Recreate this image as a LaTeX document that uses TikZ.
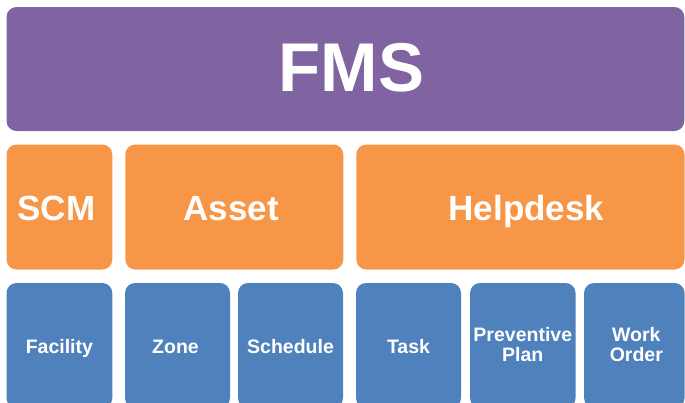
\documentclass[tikz,border=0pt]{standalone}
\usepackage{fontspec}
\setmainfont{Liberation Sans}
\definecolor{fmspurple}{HTML}{8064A2}
\definecolor{fmsorange}{HTML}{F79646}
\definecolor{fmsblue}{HTML}{4F81BD}
\tikzset{
  tile/.style={rounded corners=10pt, inner sep=0pt, draw=none},
  ptile/.style={tile, fill=fmspurple},
  otile/.style={tile, fill=fmsorange},
  btile/.style={tile, fill=fmsblue},
  tiletext/.style={text=white, inner sep=0pt, anchor=base},
  bigtxt/.style={tiletext, font=\fontsize{69}{72}\selectfont\bfseries},
  midtxt/.style={tiletext, font=\fontsize{35}{38}\selectfont\bfseries},
  smalltxt/.style={tiletext, font=\fontsize{19.5}{20}\selectfont\bfseries},
}
\begin{document}
\begin{tikzpicture}[x=1pt, y=-1pt]
\useasboundingbox (0,0) rectangle (685,402);
\begin{scope}
\clip (0,0) rectangle (685,402);
% top
\node[ptile, minimum width=677.8pt, minimum height=124pt] (fms) at (345.4,69) {};
\node[bigtxt] (fmst) at ([xshift=6pt, yshift=-22.7pt]fms.center) {FMS};
% middle
\node[otile, minimum width=105.8pt, minimum height=125pt] (scm) at (59.4,207) {};
\node[otile, minimum width=218pt, minimum height=125pt] (asset) at (234.3,207) {};
\node[otile, minimum width=328.2pt, minimum height=125pt] (helpdesk) at (520.4,207) {};
\node[midtxt] (scmt) at ([xshift=-3pt, yshift=-13.5pt]scm.center) {SCM};
\node[midtxt] (assett) at ([xshift=-3pt, yshift=-13.5pt]asset.center) {Asset};
\node[midtxt] (helpdeskt) at ([xshift=6pt, yshift=-13.5pt]helpdesk.center) {Helpdesk};
% bottom
\node[btile, minimum width=105.8pt, minimum height=125pt] (facility) at (59.4,345.5) {};
\node[btile, minimum width=105pt, minimum height=125pt] (zone) at (177.5,345.5) {};
\node[btile, minimum width=105pt, minimum height=125pt] (schedule) at (290.5,345.5) {};
\node[btile, minimum width=105pt, minimum height=125pt] (task) at (408.5,345.5) {};
\node[btile, minimum width=105.5pt, minimum height=125pt] (preventive) at (522.8,345.5) {};
\node[btile, minimum width=100.5pt, minimum height=125pt] (workorder) at (634.3,345.5) {};
\node[smalltxt] (facilityt) at ([yshift=-7.9pt]facility.center) {Facility};
\node[smalltxt] (zonet) at ([xshift=-2pt, yshift=-7.9pt]zone.center) {Zone};
\node[smalltxt] (schedulet) at ([yshift=-7.9pt]schedule.center) {Schedule};
\node[smalltxt] (taskt) at ([yshift=-7.9pt]task.center) {Task};
\node[smalltxt] (preventivet1) at ([yshift=4pt]preventive.center) {Preventive};
\node[smalltxt] (preventivet2) at ([yshift=-16.2pt]preventive.center) {Plan};
\node[smalltxt] (workordert1) at ([xshift=2pt, yshift=4pt]workorder.center) {Work};
\node[smalltxt] (workordert2) at ([xshift=2pt, yshift=-16.2pt]workorder.center) {Order};
\end{scope}
\end{tikzpicture}
\end{document}
